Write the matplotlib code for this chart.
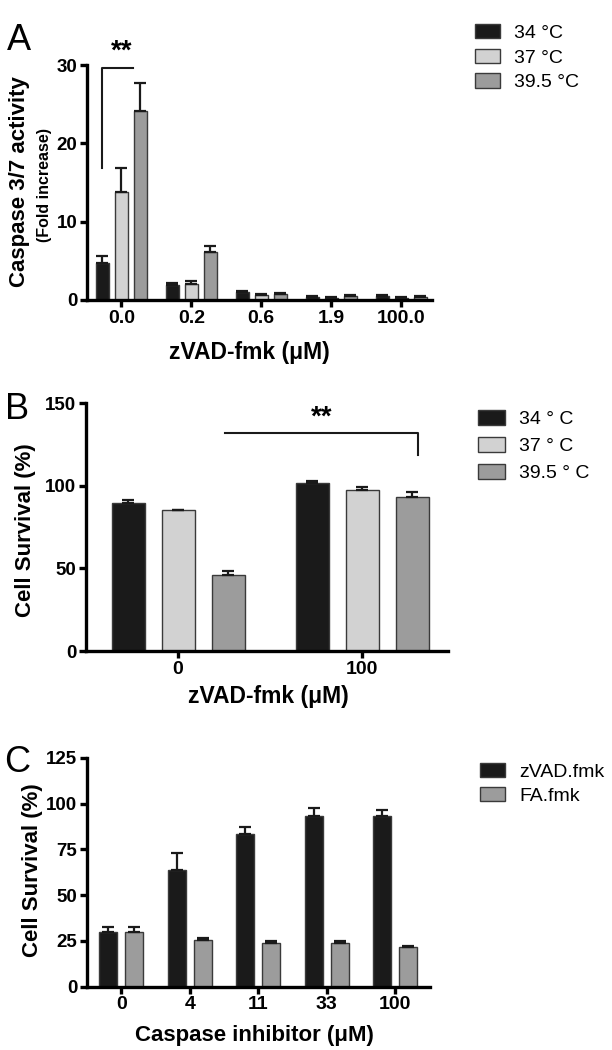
import numpy as np
import matplotlib
matplotlib.use('Agg')
import matplotlib.pyplot as plt
from matplotlib.patches import Patch

plt.rcParams['font.family'] = ['Liberation Sans', 'DejaVu Sans']

# Panel A data - caspase 3/7 activity (fold increase)
a_doses = ['0.0', '0.2', '0.6', '1.9', '100.0']
a_temps = ['34 °C', '37 °C', '39.5 °C']
a_34 = [4.7, 1.9, 1.0, 0.4, 0.5]
a_34_err = [0.9, 0.3, 0.1, 0.1, 0.1]
a_37 = [13.8, 2.1, 0.7, 0.3, 0.3]
a_37_err = [3.0, 0.3, 0.1, 0.05, 0.05]
a_395 = [24.1, 6.1, 0.8, 0.5, 0.4]
a_395_err = [3.6, 0.8, 0.1, 0.1, 0.1]

# Panel B data - cell survival (%)
b_doses = ['0', '100']
b_temps = ['34 ° C', '37 ° C', '39.5 ° C']
b_34 = [89.5, 101.6]
b_34_err = [1.8, 1.1]
b_37 = [85.5, 97.4]
b_37_err = [0.0, 2.0]
b_395 = [46.0, 93.4]
b_395_err = [2.4, 2.8]

# Panel C data - cell survival (%)
c_doses = ['0', '4', '11', '33', '100']
c_inhib = ['zVAD.fmk', 'FA.fmk']
c_zvad = [29.7, 63.5, 83.5, 93.3, 93.2]
c_zvad_err = [3.1, 9.3, 3.8, 4.4, 3.1]
c_fa = [29.8, 25.5, 24.0, 24.0, 21.5]
c_fa_err = [3.0, 1.3, 1.1, 1.0, 0.6]

black = '#1a1a1a'
light = '#d2d2d2'
dark = '#9c9c9c'
edge = '#3a3a3a'

fig = plt.figure(figsize=(6.12, 10.5), dpi=100)


def style(ax, yticks, xlabels):
    for s in ['top', 'right']:
        ax.spines[s].set_visible(False)
    for s in ['left', 'bottom']:
        ax.spines[s].set_linewidth(2.4)
    ax.set_yticks(yticks)
    ax.set_ylim(yticks[0], yticks[-1])
    ax.set_xticks(range(len(xlabels)))
    ax.set_xticklabels(xlabels)
    ax.tick_params(width=2.4, length=5, direction='out', pad=2)
    for lab in ax.get_yticklabels():
        lab.set_fontsize(13.5)
        lab.set_fontweight('bold')
    for lab in ax.get_xticklabels():
        lab.set_fontsize(14)
        lab.set_fontweight('bold')


def bars(ax, pos, vals, errs, color, width):
    ax.bar(pos, vals, width, color=color, edgecolor=edge, linewidth=1, zorder=2)
    ax.errorbar(pos, vals, yerr=[np.zeros(len(errs)), errs], fmt='none',
                ecolor=black, elinewidth=1.6, capsize=4, capthick=1.6, zorder=3)


# ---------- A ----------
axA = fig.add_axes([87/612, 1-300/1050, 345/612, 235/1050])
x = np.arange(len(a_doses))
off, w = 19/70, 13/70
bars(axA, x - off, a_34, a_34_err, black, w)
bars(axA, x, a_37, a_37_err, light, w)
bars(axA, x + off, a_395, a_395_err, dark, w)
style(axA, [0, 10, 20, 30], a_doses)
axA.set_xlim(-0.49, 4.44)
axA.plot([-off, -off, 0.17], [16.9, 29.6, 29.6], color=black, lw=1.5, clip_on=False)
axA.text(0, 30.0, '**', ha='center', va='bottom', fontsize=20, fontweight='bold', clip_on=False)

fig.text(20/612, 1-182/1050, 'Caspase 3/7 activity', rotation=90, ha='center', va='center',
         fontsize=16, fontweight='bold')
fig.text(45/612, 1-185/1050, '(Fold increase)', rotation=90, ha='center', va='center',
         fontsize=11.5, fontweight='bold')
fig.text(249/612, 1-353/1050, 'zVAD-fmk (μM)', ha='center', va='center',
         fontsize=16.5, fontweight='bold')
fig.text(19/612, 1-40/1050, 'A', ha='center', va='center', fontsize=26)
fig.legend([Patch(facecolor=c, edgecolor=edge) for c in [black, light, dark]], a_temps,
           loc='upper left', bbox_to_anchor=(475/612, 1-24/1050), frameon=False,
           fontsize=14, handlelength=1.3, handleheight=0.75, handletextpad=0.7,
           labelspacing=0.35, borderpad=0, borderaxespad=0)

# ---------- B ----------
axB = fig.add_axes([86/612, 1-651/1050, 362/612, 248/1050])
x = np.arange(len(b_doses))
off, w = 50/184, 33/184
bars(axB, x - off, b_34, b_34_err, black, w)
bars(axB, x, b_37, b_37_err, light, w)
bars(axB, x + off, b_395, b_395_err, dark, w)
style(axB, [0, 50, 100, 150], b_doses)
axB.set_xlim(-0.5, 1.467)
axB.plot([0.255, 1.303, 1.303], [132, 132, 118.6], color=black, lw=1.5, clip_on=False)
axB.text(0.78, 133, '**', ha='center', va='bottom', fontsize=20, fontweight='bold')

fig.text(26/612, 1-530/1050, 'Cell Survival (%)', rotation=90, ha='center', va='center',
         fontsize=16, fontweight='bold')
fig.text(268/612, 1-696/1050, 'zVAD-fmk (μM)', ha='center', va='center',
         fontsize=16.5, fontweight='bold')
fig.text(17/612, 1-409/1050, 'B', ha='center', va='center', fontsize=26)
fig.legend([Patch(facecolor=c, edgecolor=edge) for c in [black, light, dark]], b_temps,
           loc='upper left', bbox_to_anchor=(478/612, 1-410/1050), frameon=False,
           fontsize=14, handlelength=1.4, handleheight=0.8, handletextpad=0.7,
           labelspacing=0.45, borderpad=0, borderaxespad=0)

# ---------- C ----------
axC = fig.add_axes([87/612, 1-986.7/1050, 343/612, 229/1050])
x = np.arange(len(c_doses))
off, w = 13/68.5, 18/68.5
bars(axC, x - off, c_zvad, c_zvad_err, black, w)
bars(axC, x + off, c_fa, c_fa_err, dark, w)
style(axC, [0, 25, 50, 75, 100, 125], c_doses)
axC.set_xlim(-0.5, 4.51)

fig.text(33/612, 1-870/1050, 'Cell Survival (%)', rotation=90, ha='center', va='center',
         fontsize=16, fontweight='bold')
fig.text(254/612, 1-1035/1050, 'Caspase inhibitor (μM)', ha='center', va='center',
         fontsize=16, fontweight='bold')
fig.text(17/612, 1-763/1050, 'C', ha='center', va='center', fontsize=26)
fig.legend([Patch(facecolor=c, edgecolor=edge) for c in [black, dark]], c_inhib,
           loc='upper left', bbox_to_anchor=(480/612, 1-763/1050), frameon=False,
           fontsize=14, handlelength=1.3, handleheight=0.7, handletextpad=0.7,
           labelspacing=0.35, borderpad=0, borderaxespad=0)

fig.savefig('out.png', dpi=100)
